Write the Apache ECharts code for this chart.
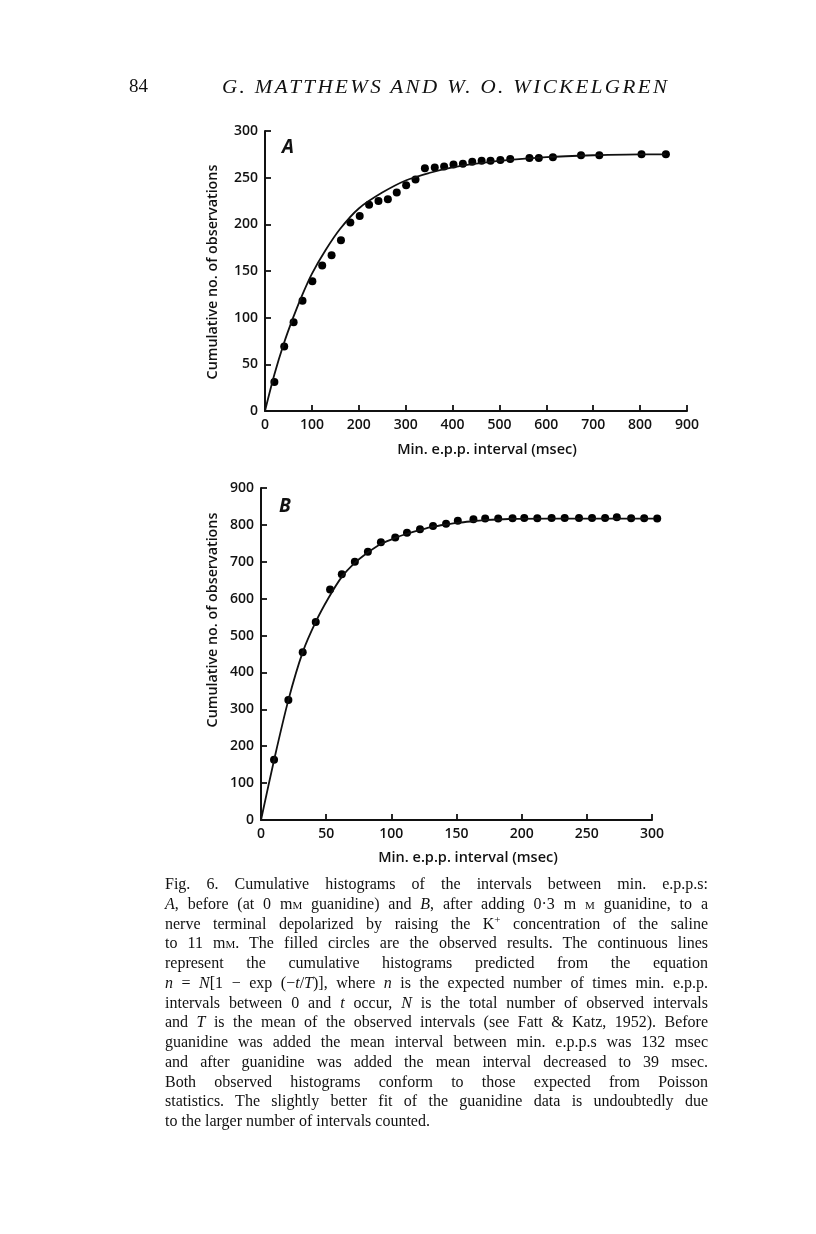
<!DOCTYPE html>
<html>
<head>
<meta charset="utf-8">
<script src="https://cdn.jsdelivr.net/npm/echarts@6/dist/echarts.min.js"></script>
<style>
  html, body { margin: 0; padding: 0; background: #fff; }
  #page { position: relative; width: 816px; height: 1234px; overflow: hidden; background: #fff; }
  #chart { position: absolute; left: 0; top: 0; width: 816px; height: 1234px; }
  .hdr { position: absolute; font-family: "Liberation Serif", "DejaVu Serif", serif; color: #111; white-space: nowrap; }
  #pg { left: 129px; top: 75px; font-size: 19px; }
  #ttl { left: 222px; top: 76px; font-size: 19.5px; font-style: italic; letter-spacing: 2.2px; transform: scaleX(1.08); transform-origin: 0 0; }
  #cap { position: absolute; left: 165px; top: 874px; width: 543px;
         font-family: "Liberation Serif", "DejaVu Serif", serif; font-size: 16px; color: #111; }
  #cap div { height: 19.75px; line-height: 19.75px; white-space: nowrap; text-align: justify; text-align-last: justify; }
  #cap div.last { text-align-last: left; }
  .sc { font-variant: small-caps; }
</style>
</head>
<body>
<div id="page">
  <div id="chart"></div>
  <div class="hdr" id="pg">84</div>
  <div class="hdr" id="ttl">G. MATTHEWS AND W. O. WICKELGREN</div>
  <div id="cap">
    <div>Fig. 6. Cumulative histograms of the intervals between min. e.p.p.s:</div>
    <div><i>A</i>, before (at 0 m<span class="sc">m</span> guanidine) and <i>B</i>, after adding 0·3 m <span class="sc">m</span> guanidine, to a</div>
    <div>nerve terminal depolarized by raising the K<sup style="font-size:11px;line-height:0">+</sup> concentration of the saline</div>
    <div>to 11 m<span class="sc">m</span>. The filled circles are the observed results. The continuous lines</div>
    <div>represent the cumulative histograms predicted from the equation</div>
    <div><i>n</i> = <i>N</i>[1 − exp (−<i>t</i>/<i>T</i>)], where <i>n</i> is the expected number of times min. e.p.p.</div>
    <div>intervals between 0 and <i>t</i> occur, <i>N</i> is the total number of observed intervals</div>
    <div>and <i>T</i> is the mean of the observed intervals (see Fatt &amp; Katz, 1952). Before</div>
    <div>guanidine was added the mean interval between min. e.p.p.s was 132 msec</div>
    <div>and after guanidine was added the mean interval decreased to 39 msec.</div>
    <div>Both observed histograms conform to those expected from Poisson</div>
    <div>statistics. The slightly better fit of the guanidine data is undoubtedly due</div>
    <div class="last">to the larger number of intervals counted.</div>
  </div>
</div>
<script>
// ---- Panel A (before guanidine) ----
const aIntervals = [20,41,61,80,101,122,142,162,182,202,222,242,262,281,301,321,341,362,382,402,422,442,462,481,502,523,564,584,614,674,713,803,855];
const aCounts    = [31,69,95,118,139,156,167,183,202,209,221,225,227,234,242,248,260,261,262,264,265,267,268,268,269,270,271,271,272,274,274,275,275];
const aCurveT    = [0,20,40,60,80,100,130,160,200,250,300,350,400,450,500,600,700,800,855];
const aCurveN    = [0,39,72,100,125,147,173,195,217,234,247,255,261,265,268,272,274,275,275];
const aXTicks    = [0,100,200,300,400,500,600,700,800,900];
const aYTicks    = [0,50,100,150,200,250,300];

// ---- Panel B (after 0.3 mM guanidine) ----
const bIntervals = [10,21,32,42,53,62,72,82,92,103,112,122,132,142,151,163,172,182,193,202,212,223,233,244,254,264,273,284,294,304];
const bCounts    = [163,325,455,537,625,666,700,727,753,766,779,788,797,803,811,815,817,817,818,819,818,819,819,819,819,819,821,818,818,817];
const bCurveT    = [0,10,21,32,42,52,62,72,82,92,103,112,122,132,142,152,163,172,190,220,260,304];
const bCurveN    = [0,162,325,455,537,603,659,697,725,748,765,776,786,795,801,806,810,813,816,817,817,817];
const bXTicks    = [0,50,100,150,200,250,300];
const bYTicks    = [0,100,200,300,400,500,600,700,800,900];

const xName = 'Min. e.p.p. interval (msec)';
const yName = 'Cumulative no. of observations';

const ink = '#111';
const sans = '"Open Sans", "DejaVu Sans", sans-serif';

function pairs(xs, ys) { return xs.map((x, i) => [x, ys[i]]); }

function axisFor(grid, ticks) {
  return {
    type: 'value', gridIndex: grid,
    min: ticks[0], max: ticks[ticks.length - 1], interval: ticks[1] - ticks[0],
    axisLine: { show: true, onZero: false, lineStyle: { color: ink, width: 2 } },
    axisTick: { show: true, inside: true, length: 6, lineStyle: { color: ink, width: 1.8 } },
    axisLabel: { show: true, margin: 7, color: ink, fontFamily: sans, fontSize: 14, fontWeight: 600 },
    splitLine: { show: false }
  };
}

const chart = echarts.init(document.getElementById('chart'), null, { renderer: 'canvas' });
chart.setOption({
  backgroundColor: '#fff',
  animation: false,
  grid: [
    { left: 265, top: 131, width: 422, height: 280 },
    { left: 261, top: 488, width: 391, height: 332 }
  ],
  xAxis: [ axisFor(0, aXTicks), axisFor(1, bXTicks) ],
  yAxis: [ axisFor(0, aYTicks), axisFor(1, bYTicks) ],
  series: [
    { type: 'line', xAxisIndex: 0, yAxisIndex: 0, data: pairs(aCurveT, aCurveN), smooth: 0.3, showSymbol: false, symbol: 'none', lineStyle: { color: ink, width: 1.8 }, clip: false },
    { type: 'scatter', xAxisIndex: 0, yAxisIndex: 0, data: pairs(aIntervals, aCounts), symbolSize: 8, itemStyle: { color: '#000', opacity: 1 }, clip: false },
    { type: 'line', xAxisIndex: 1, yAxisIndex: 1, data: pairs(bCurveT, bCurveN), smooth: 0.3, showSymbol: false, symbol: 'none', lineStyle: { color: ink, width: 1.8 }, clip: false },
    { type: 'scatter', xAxisIndex: 1, yAxisIndex: 1, data: pairs(bIntervals, bCounts), symbolSize: 8, itemStyle: { color: '#000', opacity: 1 }, clip: false }
  ],
  graphic: [
    { type: 'text', left: 282, top: 138, style: { text: 'A', fill: ink, font: 'italic 700 19px ' + sans } },
    { type: 'text', left: 279, top: 497, style: { text: 'B', fill: ink, font: 'italic 700 19px ' + sans } },
    { type: 'text', x: 487, y: 450, style: { text: xName, fill: ink, font: '600 14.5px ' + sans, align: 'center', verticalAlign: 'middle' } },
    { type: 'text', x: 468, y: 858, style: { text: xName, fill: ink, font: '600 14.5px ' + sans, align: 'center', verticalAlign: 'middle' } },
    { type: 'text', x: 213, y: 272, rotation: Math.PI / 2, style: { text: yName, fill: ink, font: '600 14.3px ' + sans, align: 'center', verticalAlign: 'middle' } },
    { type: 'text', x: 213, y: 620, rotation: Math.PI / 2, style: { text: yName, fill: ink, font: '600 14.3px ' + sans, align: 'center', verticalAlign: 'middle' } }
  ]
});
</script>
</body>
</html>
